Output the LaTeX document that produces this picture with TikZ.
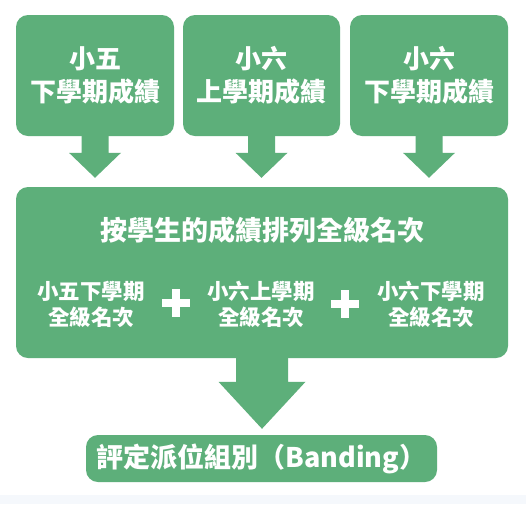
\documentclass[tikz,border=0pt]{standalone}
\usepackage{fontspec}
\setmainfont{Noto Sans CJK TC}
\usetikzlibrary{calc}
\definecolor{leaf}{RGB}{93,175,122}
\definecolor{haze}{RGB}{245,248,252}
\tikzset{
  flow/.style={fill=leaf},
  card/.style={flow, rounded corners=12pt, inner sep=0pt, text=white, align=center,
    font=\bfseries\fontsize{26}{33}\selectfont},
  caption/.style={text=white, align=center, inner sep=0pt,
    font=\bfseries\fontsize{21.5}{26}\selectfont}
}
\newcommand{\blockarrow}[6]{%
  \fill[flow] let \p1=(#1.south), \p2=(#2.north) in
    (\x1-#3,\y1+1pt) -- (\x1-#3,\y2+#6+#5) -- (\x1-#4,\y2+#6+#5) -- (\x1,\y2+#6)
    -- (\x1+#4,\y2+#6+#5) -- (\x1+#3,\y2+#6+#5) -- (\x1+#3,\y1+1pt) -- cycle;}
\begin{document}
\begin{tikzpicture}[x=1pt,y=-1pt]
\useasboundingbox (0,0) rectangle (526,504);
\fill[white] (0,0) rectangle (526,495);
\fill[haze] (0,495) rectangle (526,504);
\node[card, minimum width=158pt, minimum height=121pt] (S1) at (95,75.5) {小五\\下學期成績};
\node[card, minimum width=157pt, minimum height=121pt] (S2) at (261.5,75.5) {小六\\上學期成績};
\node[card, minimum width=158pt, minimum height=121pt] (S3) at (429,75.5) {小六\\下學期成績};
\node[card, minimum width=492pt, minimum height=171pt] (R) at (262,272.5) {};
\node[caption, font=\bfseries\fontsize{27}{30}\selectfont] (T) at (262,230) {按學生的成績排列全級名次};
\node[caption] (R1) at (91,304) {小五下學期\\全級名次};
\node[caption] (R2) at (261,304) {小六上學期\\全級名次};
\node[caption] (R3) at (431,304) {小六下學期\\全級名次};
\coordinate (P1) at (176,303);
\coordinate (P2) at (345,304);
\fill[white] ($(P1)+(-14,-4)$) rectangle ($(P1)+(14,4)$);
\fill[white] ($(P1)+(-4,-14)$) rectangle ($(P1)+(4,14)$);
\fill[white] ($(P2)+(-14,-4)$) rectangle ($(P2)+(14,4)$);
\fill[white] ($(P2)+(-4,-14)$) rectangle ($(P2)+(4,14)$);
\node[card, minimum width=351pt, minimum height=47pt, font=\bfseries\fontsize{27}{30}\selectfont] (B) at (261.5,458.5) {評定派位組別（Banding）};
\blockarrow{S1}{R}{13.5pt}{26pt}{25pt}{9pt}
\blockarrow{S2}{R}{13.5pt}{26pt}{25pt}{9pt}
\blockarrow{S3}{R}{13.5pt}{26pt}{25pt}{9pt}
\blockarrow{R}{B}{26pt}{43.5pt}{47pt}{6pt}
\end{tikzpicture}
\end{document}
